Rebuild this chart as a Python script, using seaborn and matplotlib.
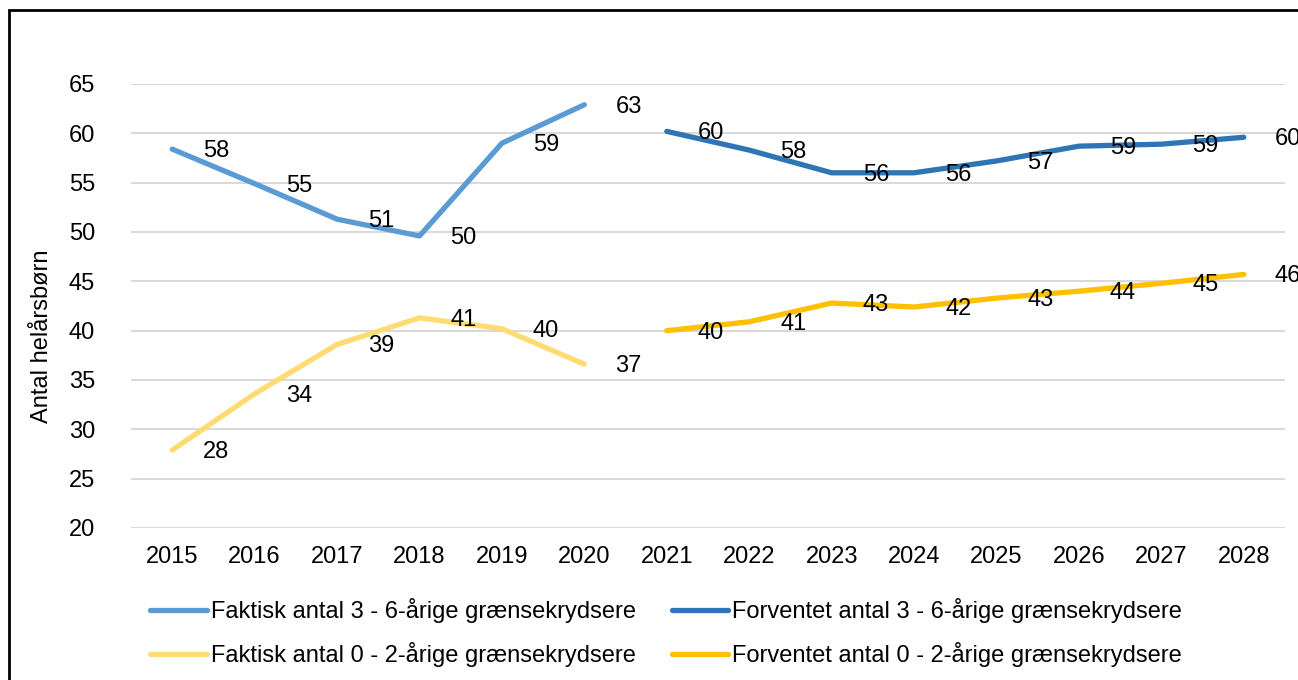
import numpy as np
import pandas as pd
import matplotlib
matplotlib.use("Agg")
import matplotlib.pyplot as plt
from matplotlib.patches import Rectangle
import seaborn as sns

# Data
years = [str(y) for y in range(2015, 2029)]
actual_years = years[:6]
forecast_years = years[6:]

actual_3_6 = [58.4, 54.9, 51.3, 49.6, 59.0, 62.9]
forecast_3_6 = [60.2, 58.3, 56.0, 56.0, 57.2, 58.7, 58.9, 59.6]
actual_0_2 = [27.9, 33.6, 38.6, 41.3, 40.2, 36.6]
forecast_0_2 = [40.0, 40.9, 42.8, 42.4, 43.3, 44.0, 44.8, 45.7]

labels = [
    "Faktisk antal 3 - 6-årige grænsekrydsere",
    "Forventet antal 3 - 6-årige grænsekrydsere",
    "Faktisk antal 0 - 2-årige grænsekrydsere",
    "Forventet antal 0 - 2-årige grænsekrydsere",
]
colors = ["#5B9BD5", "#2E75B6", "#FFDC73", "#FFC000"]

sns.set_theme(style="white")
plt.rcParams["font.family"] = ["Liberation Sans", "DejaVu Sans"]
plt.rcParams["text.color"] = "black"

FS = 17

fig = plt.figure(figsize=(12.98, 6.8), dpi=100)
ax = fig.add_axes([131 / 1298, 1 - 528 / 680, (1285 - 131) / 1298, (528 - 84) / 680])

pos = {y: i for i, y in enumerate(years)}
series = [
    (actual_years, actual_3_6),
    (forecast_years, forecast_3_6),
    (actual_years, actual_0_2),
    (forecast_years, forecast_0_2),
]

for (yrs, vals), lab, col in zip(series, labels, colors):
    df = pd.DataFrame({"x": [pos[y] for y in yrs], "y": vals})
    sns.lineplot(data=df, x="x", y="y", ax=ax, color=col, linewidth=3.8,
                 label=lab, solid_capstyle="round", solid_joinstyle="round")
    for xv, yv in zip(df["x"], df["y"]):
        ax.annotate(f"{round(yv):d}", (xv, yv), xytext=(31, -2),
                    textcoords="offset pixels", ha="left", va="center",
                    fontsize=FS, color="black", annotation_clip=False)

ax.set_xlim(-0.5, len(years) - 0.5)
ax.set_ylim(20, 65)
ax.set_yticks(np.arange(20, 66, 5))
ax.set_xticks(range(len(years)))
ax.set_xticklabels(years)
ax.grid(axis="y", color="#D9D9D9", linewidth=1.5)
ax.grid(axis="x", visible=False)
ax.set_axisbelow(True)
for s in ax.spines.values():
    s.set_visible(False)
ax.tick_params(axis="both", length=0, labelsize=FS, colors="black")
ax.tick_params(axis="x", pad=13)
ax.tick_params(axis="y", pad=26)
ax.set_xlabel("")
ax.set_ylabel("Antal helårsbørn", fontsize=FS, color="black")
ax.yaxis.set_label_coords(-0.068, 0.432)

# legend filled row by row, like the original
handles, _ = ax.get_legend_handles_labels()
order = [0, 2, 1, 3]
leg = ax.legend([handles[i] for i in order], [labels[i] for i in order], ncol=2,
                loc="upper left", bbox_to_anchor=(141 / 1298, 1 - 589 / 680),
                bbox_transform=fig.transFigure, frameon=False, fontsize=FS,
                handlelength=2.4, handletextpad=0.15, columnspacing=1.52,
                labelspacing=0.78, borderaxespad=0)
for t in leg.get_texts():
    t.set_color("black")

# outer frame
fig.patches.append(Rectangle((9 / 1298, -0.1), 1.2, 1 - 10 / 680 + 0.1,
                             transform=fig.transFigure, fill=False,
                             edgecolor="black", linewidth=2, zorder=10))

fig.savefig("out.png", dpi=100, facecolor="white")
